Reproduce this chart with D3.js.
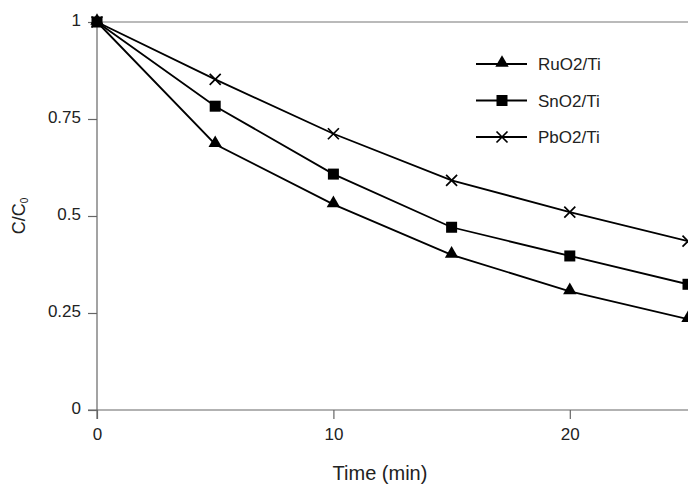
<!DOCTYPE html>
<html>
  <head>
    <script src="https://cdn.jsdelivr.net/npm/d3@7"></script>
    <style>
      body { margin: 0; background: #fff; }
      text { font-family: "Liberation Sans", Arial, sans-serif; fill: #222; }
    </style>
  </head>
  <body>
    <script>

    // Time points and the three electrode series
    var times = [0, 5, 10, 15, 20, 25];
    var ruo2 = [1, 0.685, 0.53, 0.40, 0.306, 0.234];
    var sno2 = [1, 0.783, 0.608, 0.471, 0.397, 0.324];
    var pbo2 = [1, 0.852, 0.712, 0.592, 0.51, 0.435];
    var seriesNames = ["RuO2/Ti", "SnO2/Ti", "PbO2/Ti"];
    var markerTypes = ["triangle", "square", "cross"];
    var xTicks = [0, 10, 20];
    var yTicks = [0, 0.25, 0.5, 0.75, 1];
    var yTickLabels = ["0", "0.25", "0.5", "0.75", "1"];

    var width = 688, height = 485;
    var plotLeft = 97, plotTop = 22, plotBottom = 410;

    var svg = d3.select("body").append("svg")
      .attr("width", width)
      .attr("height", height);

    var x = d3.scaleLinear().domain([0, 25]).range([plotLeft, 688]);
    var y = d3.scaleLinear().domain([0, 1]).range([plotBottom, plotTop]);

    // Top border of the plot area
    svg.append("line")
      .attr("x1", plotLeft).attr("x2", width + 5)
      .attr("y1", y(1)).attr("y2", y(1))
      .attr("stroke", "#777").attr("stroke-width", 1.2);

    // Axes
    var xAxis = svg.append("g")
      .attr("transform", "translate(0," + plotBottom + ")")
      .call(d3.axisBottom(x).tickValues(xTicks).tickSize(9).tickPadding(9).tickSizeOuter(0));
    var yAxis = svg.append("g")
      .attr("transform", "translate(" + plotLeft + ",0)")
      .call(d3.axisLeft(y).tickValues(yTicks).tickSize(9).tickPadding(7).tickSizeOuter(0)
        .tickFormat(function(d, i) { return yTickLabels[i]; }));

    xAxis.select(".domain").attr("d", "M" + (plotLeft - 9) + ",0H" + (width + 5));
    yAxis.select(".domain").attr("d", "M0," + plotTop + "V" + (plotBottom + 9));

    [xAxis, yAxis].forEach(function(g) {
      g.selectAll(".domain, line").attr("stroke", "#666").attr("stroke-width", 1.2);
      g.selectAll("text").style("font-size", "17px").attr("fill", "#222");
    });
    yAxis.selectAll("text").attr("dy", "0.2em");

    // Axis titles
    svg.append("text")
      .attr("x", 380).attr("y", 480)
      .attr("text-anchor", "middle")
      .style("font-size", "20px")
      .text("Time (min)");

    var yTitle = svg.append("text")
      .attr("transform", "translate(25,216)rotate(-90)")
      .attr("text-anchor", "middle")
      .style("font-size", "18px");
    yTitle.append("tspan").text("C/C");
    yTitle.append("tspan").attr("dy", 3).style("font-size", "10px").text("0");

    // Marker shapes
    function marker(g, type, cx, cy) {
      if (type === "triangle") {
        g.append("path")
          .attr("d", d3.symbol().type(d3.symbolTriangle).size(78)())
          .attr("transform", "translate(" + cx + "," + (cy - 1) + ")")
          .attr("fill", "#000");
      } else if (type === "square") {
        g.append("rect")
          .attr("x", cx - 5.5).attr("y", cy - 5.5)
          .attr("width", 11).attr("height", 11)
          .attr("fill", "#000");
      } else {
        g.append("path")
          .attr("d", "M" + (cx - 5.5) + "," + (cy - 5.5) + "L" + (cx + 5.5) + "," + (cy + 5.5) +
                     "M" + (cx - 5.5) + "," + (cy + 5.5) + "L" + (cx + 5.5) + "," + (cy - 5.5))
          .attr("stroke", "#000").attr("stroke-width", 1.7).attr("fill", "none");
      }
    }

    var line = d3.line()
      .x(function(d, i) { return x(times[i]); })
      .y(function(d) { return y(d); });

    [ruo2, sno2, pbo2].forEach(function(vals, k) {
      var g = svg.append("g");
      g.append("path")
        .attr("d", line(vals))
        .attr("fill", "none")
        .attr("stroke", "#000")
        .attr("stroke-width", 1.8);
      vals.forEach(function(v, i) {
        marker(g, markerTypes[k], x(times[i]), y(v));
      });
    });

    // Legend
    var legend = svg.append("g");
    seriesNames.forEach(function(name, k) {
      var ly = 64 + k * 36.5;
      legend.append("line")
        .attr("x1", 476).attr("x2", 527)
        .attr("y1", ly).attr("y2", ly)
        .attr("stroke", "#000").attr("stroke-width", 1.8);
      marker(legend, markerTypes[k], 502, ly);
      legend.append("text")
        .attr("x", 538).attr("y", ly + 6)
        .style("font-size", "17px")
        .text(name);
    });
    </script>
  </body>
</html>
